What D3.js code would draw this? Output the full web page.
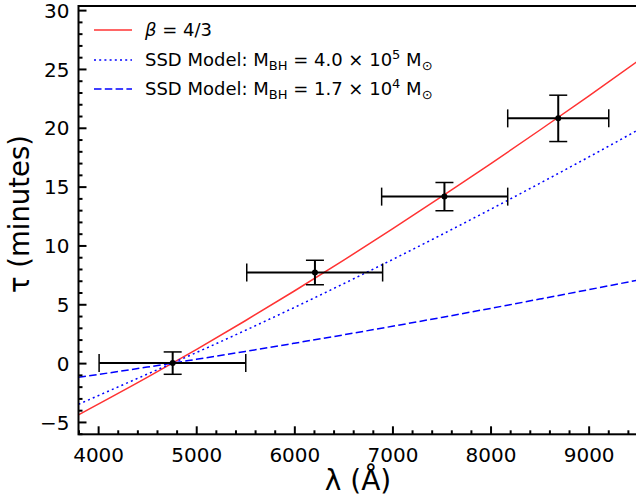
<!DOCTYPE html>
<html>
<head>
<meta charset="utf-8">
<script src="https://cdn.jsdelivr.net/npm/d3@7"></script>
<style>
  body { margin: 0; background: #fff; }
  text { font-family: "DejaVu Sans", sans-serif; }
</style>
</head>
<body>
<svg id="chart" width="636" height="502"></svg>
<script>
// data
var pointLambda = [4760, 6210, 7530, 8690];
var pointTau = [0.0, 7.7, 14.15, 20.8];
var lambdaErrLo = [750, 695, 640, 515];
var lambdaErrHi = [745, 690, 645, 515];
var tauErr = [0.95, 1.04, 1.2, 1.97];

var curveLambda = [3800, 4500, 5000, 5500, 6000, 6500, 7000, 7500, 8000, 8500, 9000, 9500];
var betaTau = [-4.4, -1.22, 1.15, 3.6, 6.13, 8.73, 11.4, 14.14, 16.93, 19.79, 22.69, 25.66];
var ssdHighTau = [-3.5, -0.94, 0.89, 2.78, 4.73, 6.74, 8.8, 10.91, 13.07, 15.27, 17.51, 19.8];
var ssdLowTau = [-1.21, -0.34, 0.32, 0.99, 1.69, 2.4, 3.13, 3.88, 4.65, 5.44, 6.24, 7.05];

var xTicks = [4000, 5000, 6000, 7000, 8000, 9000];
var yTicks = [-5, 0, 5, 10, 15, 20, 25, 30];

// set up the scales
var pLeft = 78.5, pRight = 637.7, pTop = 6, pBottom = 434.3;
var x = d3.scaleLinear().domain([3800, 9500]).range([pLeft, pRight]);
var y = d3.scaleLinear().domain([-6.05, 30.35]).range([pBottom, pTop]);

var svg = d3.select("#chart");

// model curves
var line = d3.line()
    .curve(d3.curveMonotoneX)
    .x(function (d) { return x(d[0]); })
    .y(function (d) { return y(d[1]); });

var plot = svg.append("g");
plot.append("clipPath").attr("id", "clip")
    .append("rect").attr("x", pLeft).attr("y", pTop)
    .attr("width", pRight - pLeft).attr("height", pBottom - pTop);

var curves = [
    { tau: betaTau, color: "#ff3333", dash: null },
    { tau: ssdHighTau, color: "#0000ff", dash: "2,3.2" },
    { tau: ssdLowTau, color: "#0000ff", dash: "7.5,3.3" }
];
curves.forEach(function (c) {
    plot.append("path")
        .attr("d", line(d3.zip(curveLambda, c.tau)))
        .attr("clip-path", "url(#clip)")
        .attr("fill", "none")
        .attr("stroke", c.color)
        .attr("stroke-width", 1.5)
        .attr("stroke-dasharray", c.dash);
});

// error bars
var cap = 9;
for (var i = 0; i < pointLambda.length; i++) {
    var px = x(pointLambda[i]), py = y(pointTau[i]);
    var x0 = x(pointLambda[i] - lambdaErrLo[i]), x1 = x(pointLambda[i] + lambdaErrHi[i]);
    var y0 = y(pointTau[i] - tauErr[i]), y1 = y(pointTau[i] + tauErr[i]);
    var g = plot.append("g").attr("stroke", "#000").attr("stroke-width", 2);
    g.append("line").attr("x1", x0).attr("x2", x1).attr("y1", py).attr("y2", py);
    g.append("line").attr("x1", px).attr("x2", px).attr("y1", y0).attr("y2", y1);
    g.append("line").attr("x1", x0).attr("x2", x0).attr("y1", py - cap).attr("y2", py + cap).attr("stroke-width", 1.5);
    g.append("line").attr("x1", x1).attr("x2", x1).attr("y1", py - cap).attr("y2", py + cap).attr("stroke-width", 1.5);
    g.append("line").attr("x1", px - cap).attr("x2", px + cap).attr("y1", y0).attr("y2", y0).attr("stroke-width", 1.5);
    g.append("line").attr("x1", px - cap).attr("x2", px + cap).attr("y1", y1).attr("y2", y1).attr("stroke-width", 1.5);
    plot.append("circle").attr("cx", px).attr("cy", py).attr("r", 3).attr("fill", "#000");
}

// axes, ticks point inward
var fmt = function (d) { return d < 0 ? "\u2212" + Math.abs(d) : String(d); };
var xAxis = svg.append("g").attr("transform", "translate(0," + pBottom + ")")
    .call(d3.axisBottom(x).tickValues(xTicks).tickSizeInner(-8).tickSizeOuter(0).tickPadding(14).tickFormat(fmt));
var xMinor = svg.append("g").attr("transform", "translate(0," + pBottom + ")")
    .call(d3.axisBottom(x).tickValues(d3.range(3800, 9501, 200).filter(function (v) { return v % 1000 !== 0; }))
        .tickSizeInner(-4).tickSizeOuter(0).tickFormat(""));
var yAxis = svg.append("g").attr("transform", "translate(" + pLeft + ",0)")
    .call(d3.axisLeft(y).tickValues(yTicks).tickSizeInner(-8).tickSizeOuter(0).tickPadding(9).tickFormat(fmt));
var yMinor = svg.append("g").attr("transform", "translate(" + pLeft + ",0)")
    .call(d3.axisLeft(y).tickValues(d3.range(-6, 31, 1).filter(function (v) { return v % 5 !== 0; }))
        .tickSizeInner(-4).tickSizeOuter(0).tickFormat(""));

[xAxis, xMinor, yAxis, yMinor].forEach(function (a) {
    a.select(".domain").remove();
    a.selectAll(".tick line").attr("stroke", "#000").attr("stroke-width", 2);
    a.selectAll(".tick text").attr("font-size", 20).attr("fill", "#000")
        .attr("font-family", "DejaVu Sans, sans-serif");
});
yAxis.selectAll(".tick text").attr("dy", "0.36em");

// spines
svg.append("rect").attr("x", pLeft).attr("y", pTop)
    .attr("width", pRight - pLeft).attr("height", pBottom - pTop)
    .attr("fill", "none").attr("stroke", "#000").attr("stroke-width", 2);

// axis labels
svg.append("text").attr("x", 358).attr("y", 490)
    .attr("text-anchor", "middle").attr("font-size", 28).text("\u03bb (\u00c5)");
svg.append("text").attr("transform", "translate(29,214) rotate(-90)")
    .attr("text-anchor", "middle").attr("font-size", 27.5).text("\u03c4 (minutes)");

// legend
var legend = svg.append("g").attr("font-size", 18);
var rows = [30, 60, 89];
curves.forEach(function (c, k) {
    legend.append("line").attr("x1", 94).attr("x2", 132).attr("y1", rows[k]).attr("y2", rows[k])
        .attr("stroke", c.color).attr("stroke-width", 1.5).attr("stroke-dasharray", c.dash);
});
var t0 = legend.append("text").attr("x", 145).attr("y", rows[0] + 6);
t0.append("tspan").attr("font-style", "italic").text("\u03b2");
t0.append("tspan").text(" = 4/3");

function ssdLabel(row, mant, exp) {
    var t = legend.append("text").attr("x", 145).attr("y", row + 6);
    t.append("tspan").text("SSD Model: M");
    t.append("tspan").attr("font-size", 13).attr("dy", 4).text("BH");
    t.append("tspan").attr("dy", -4).text(" = " + mant + " \u00d7 10");
    t.append("tspan").attr("font-size", 13).attr("dy", -7).text(exp);
    t.append("tspan").attr("dy", 7).text(" M");
    t.append("tspan").attr("font-size", 13).attr("dy", 4).text("\u2299");
}
ssdLabel(rows[1], "4.0", "5");
ssdLabel(rows[2], "1.7", "4");
</script>
</body>
</html>
